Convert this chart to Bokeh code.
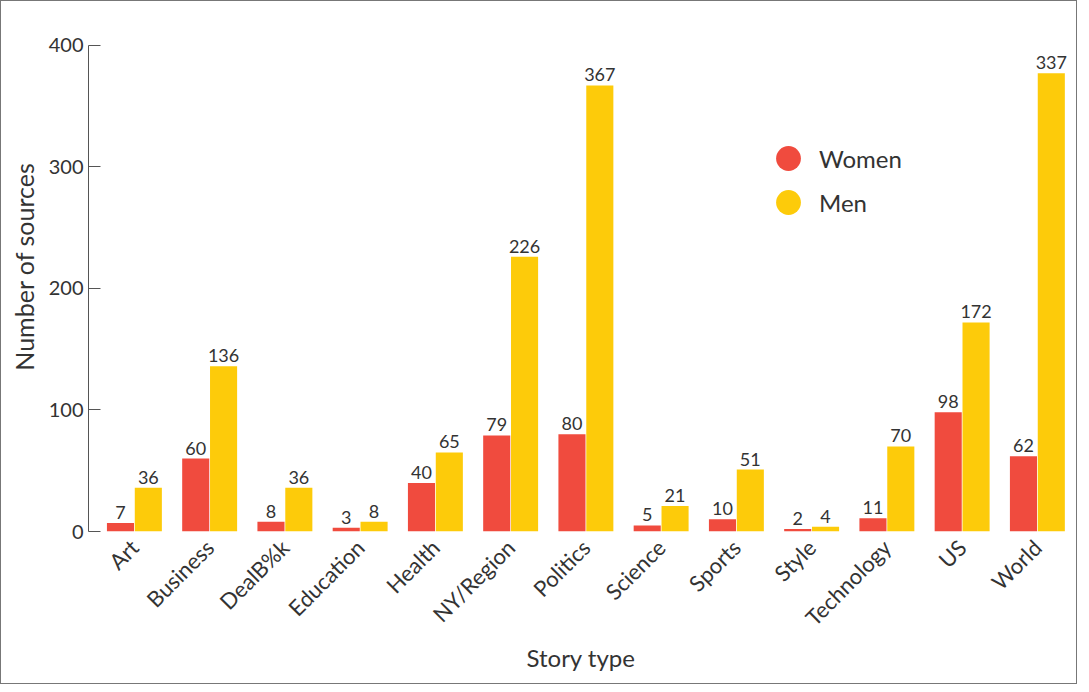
import math
from bokeh.plotting import figure
from bokeh.models import ColumnDataSource, Range1d, FixedTicker, Legend, LegendItem
from bokeh.transform import dodge
from bokeh.core.properties import value
from bokeh.embed import file_html
from bokeh.resources import INLINE

categories = ["Art", "Business", "DealB%k", "Education", "Health", "NY/Region", "Politics",
              "Science", "Sports", "Style", "Technology", "US", "World"]
women = [7, 60, 8, 3, 40, 79, 80, 5, 10, 2, 11, 98, 62]
men = [36, 136, 36, 8, 65, 226, 367, 21, 51, 4, 70, 172, 377]
women_labels = ["7", "60", "8", "3", "40", "79", "80", "5", "10", "2", "11", "98", "62"]
men_labels = ["36", "136", "36", "8", "65", "226", "367", "21", "51", "4", "70", "172", "337"]
y_ticks = [0, 100, 200, 300, 400]

RED = "#F04B3E"
YEL = "#FDCB0A"
TXT = "#333333"
FONT = "Lato"

pos = list(range(len(categories)))
src = ColumnDataSource(dict(x=pos, women=women, men=men, wl=women_labels, ml=men_labels))

p = figure(width=1077, height=684, output_backend="svg", toolbar_location=None,
           x_range=Range1d(-0.61, 12.48), y_range=Range1d(0, 436),
           min_border_left=87, min_border_right=5, min_border_top=0, min_border_bottom=154)
p.styles = {"border": "1px solid #777777"}

p.vbar(x=dodge("x", -0.185), top="women", width=0.36, source=src,
       fill_color=RED, line_color=None)
p.vbar(x=dodge("x", 0.185), top="men", width=0.36, source=src,
       fill_color=YEL, line_color=None)

p.text(x=dodge("x", -0.185), y="women", text="wl", source=src, text_align="center",
       text_baseline="bottom", y_offset=-4, text_font=value(FONT), text_font_size="18px",
       text_color=TXT)
p.text(x=dodge("x", 0.185), y="men", text="ml", source=src, text_align="center",
       text_baseline="bottom", y_offset=-4, text_font=value(FONT), text_font_size="18px",
       text_color=TXT)

# legend-only renderers (no visible data)
nan = float("nan")
lw = p.scatter(x=[nan], y=[nan], size=26, fill_color=RED, line_color=None)
lm = p.scatter(x=[nan], y=[nan], size=26, fill_color=YEL, line_color=None)

def make_legend(label, rend, loc):
    return Legend(items=[LegendItem(label=label, renderers=[rend])],
                  location=loc, glyph_width=62, glyph_height=62,
                  label_standoff=0, padding=0, margin=0, border_line_color=None,
                  background_fill_alpha=0, label_text_font=FONT,
                  label_text_font_size="24px", label_text_color=TXT)

p.add_layout(make_legend("Women", lw, (669, 342)))
p.add_layout(make_legend("Men", lm, (669, 298)))

p.xgrid.visible = False
p.ygrid.visible = False
p.outline_line_color = None

xa = p.xaxis[0]
xa.ticker = FixedTicker(ticks=pos)
xa.major_label_overrides = {i: c for i, c in enumerate(categories)}
xa.major_label_orientation = math.pi / 4
xa.axis_line_color = None
xa.major_tick_line_color = None
xa.minor_tick_line_color = None
xa.major_label_text_font = FONT
xa.major_label_text_font_size = "22px"
xa.major_label_text_color = TXT
xa.major_label_standoff = 6
xa.axis_label = "Story type"
xa.axis_label_text_font = FONT
xa.axis_label_text_font_size = "24px"
xa.axis_label_text_font_style = "normal"
xa.axis_label_text_color = TXT
xa.axis_label_standoff = 0

ya = p.yaxis[0]
ya.ticker = FixedTicker(ticks=y_ticks)
ya.bounds = (0, 400)
ya.major_tick_in = 12
ya.major_tick_out = 0
ya.minor_tick_line_color = None
ya.axis_line_color = "#555555"
ya.major_tick_line_color = "#555555"
ya.major_label_standoff = 5
ya.major_label_text_font = FONT
ya.major_label_text_font_size = "20px"
ya.major_label_text_color = TXT
ya.axis_label = "Number of sources"
ya.axis_label_text_font = FONT
ya.axis_label_text_font_size = "25px"
ya.axis_label_text_font_style = "normal"
ya.axis_label_text_color = TXT
ya.axis_label_standoff = 7

open("out.html", "w").write(file_html(p, INLINE))
